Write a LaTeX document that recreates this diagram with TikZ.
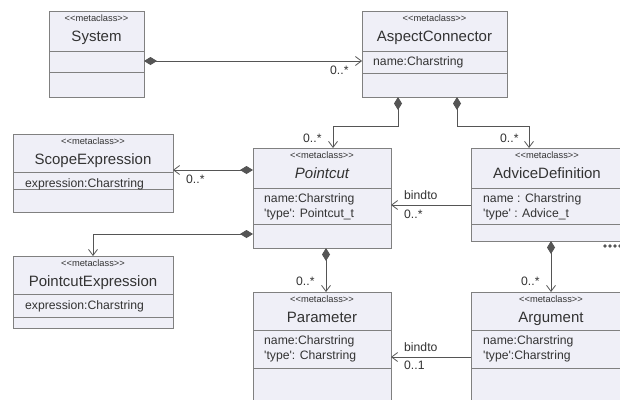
\documentclass[tikz,border=0pt]{standalone}
\usepackage{fontspec}
\setmainfont{Liberation Sans}[Ligatures=TeXOff]
\usetikzlibrary{arrows.meta}
\definecolor{boxfill}{HTML}{EFEFF7}
\definecolor{boxline}{HTML}{808080}
\definecolor{txt}{HTML}{333333}
\definecolor{conn}{HTML}{555555}
\newcommand\umlclass[7]{%
  \node[cls, minimum width=#4pt, minimum height=#5pt] (#1) at (#2,#3) {};
  \draw[sepline] ([yshift=-#6pt]#1.north west) -- ([yshift=-#6pt]#1.north east);
  \draw[sepline] ([yshift=-#7pt]#1.north west) -- ([yshift=-#7pt]#1.north east);
  \node[stereo] (#1-st) at ([yshift=-10.5pt]#1.north) {<<metaclass>>};
}
\begin{document}
\begin{tikzpicture}[x=1pt,y=-1pt,
  cls/.style={draw=boxline, fill=boxfill, line width=0.9pt, inner sep=0pt, outer sep=0pt, anchor=north west},
  sepline/.style={draw=boxline, line width=0.9pt},
  stereo/.style={font=\fontsize{9.3}{11}\selectfont, text=txt, anchor=base, inner sep=0pt},
  cname/.style={font=\fontsize{15}{17}\selectfont, text=txt, anchor=base, inner sep=0pt},
  attr/.style={font=\fontsize{12.2}{14}\selectfont, text=txt, anchor=base west, inner sep=0pt},
  lbl/.style={font=\fontsize{12.2}{14}\selectfont, text=txt, anchor=base west, inner sep=0pt},
  assoc/.style={draw=conn, line width=0.8pt, {Diamond[length=13pt,width=8pt,fill=conn]}-{Straight Barb[length=6pt,width=9pt]}},
  nav/.style={draw=conn, line width=0.8pt, -{Straight Barb[length=6pt,width=9pt]}},
  dot/.style={fill=conn, draw=none, circle, inner sep=0pt, minimum size=3.8pt}
]
\useasboundingbox (0,0) rectangle (620,399);
\clip (0,0) rectangle (620,399);
\fill[white] (0,0) rectangle (620,399);

% classes
\umlclass{sys}{49}{11}{95}{86}{40}{61}
\umlclass{ac}{362}{11}{145}{86}{40}{62}
\umlclass{se}{13}{134}{160}{78}{38}{55}
\umlclass{pc}{253}{148}{138}{100}{40}{76}
\umlclass{ad}{471}{148}{152}{93}{40}{76}
\umlclass{pe}{13}{256}{160}{72}{38}{61}
\umlclass{par}{253}{292}{138}{120}{38}{76}
\umlclass{arg}{471}{292}{160}{120}{38}{76}

% class names
\node[cname] (sys-n) at ([yshift=-30pt]sys.north) {System};
\node[cname] (ac-n) at ([yshift=-30pt]ac.north) {AspectConnector};
\node[cname] (se-n) at ([yshift=-30pt]se.north) {ScopeExpression};
\node[cname] (pc-n) at ([yshift=-30pt]pc.north) {\itshape Pointcut};
\node[cname] (ad-n) at ([yshift=-30pt]ad.north) {AdviceDefinition};
\node[cname] (pe-n) at ([yshift=-30pt]pe.north) {PointcutExpression};
\node[cname] (par-n) at ([yshift=-30pt]par.north) {Parameter};
\node[cname] (arg-n) at ([yshift=-30pt]arg.north) {Argument};

% attributes
\node[attr] (ac-a1) at ([xshift=11pt,yshift=-54pt]ac.north west) {name:Charstring};
\node[attr] (se-a1) at ([xshift=12pt,yshift=-53pt]se.north west) {expression:Charstring};
\node[attr] (pe-a1) at ([xshift=12pt,yshift=-53pt]pe.north west) {expression:Charstring};
\node[attr] (pc-a1) at ([xshift=11pt,yshift=-54pt]pc.north west) {name:Charstring};
\node[attr] (pc-a2) at ([xshift=11pt,yshift=-69pt]pc.north west) {'type': Pointcut\_t};
\node[attr] (ad-a1) at ([xshift=12pt,yshift=-54pt]ad.north west) {name : Charstring};
\node[attr] (ad-a2) at ([xshift=12pt,yshift=-69pt]ad.north west) {'type' : Advice\_t};
\node[attr] (par-a1) at ([xshift=11pt,yshift=-52pt]par.north west) {name:Charstring};
\node[attr] (par-a2) at ([xshift=11pt,yshift=-67pt]par.north west) {'type': Charstring};
\node[attr] (arg-a1) at ([xshift=12pt,yshift=-52pt]arg.north west) {name:Charstring};
\node[attr] (arg-a2) at ([xshift=12pt,yshift=-67pt]arg.north west) {'type':Charstring};

% connectors
\draw[assoc] ([yshift=-7pt]sys.east) -- ([yshift=-7pt]ac.west);
\draw[assoc] ([xshift=-36.5pt]ac.south) -- ++(0,29) -| ([xshift=11pt]pc.north);
\draw[assoc] ([xshift=22.5pt]ac.south) -- ++(0,29) -| ([xshift=-18pt]ad.north);
\draw[assoc] ([yshift=28pt]pc.west) -- ([yshift=28pt]pc.west -| se.east);
\draw[assoc] ([yshift=-36pt]pc.west) -| (pe.north);
\draw[assoc] ([xshift=4pt]pc.south) -- ([xshift=4pt]par.north);
\draw[assoc] ([xshift=4pt]ad.south) -- ([xshift=4pt]ad.south |- arg.north);
\draw[nav] ([yshift=-10.5pt]ad.west) -- ([yshift=-10.5pt]ad.west -| pc.east);
\draw[nav] ([yshift=-5pt]arg.west) -- ([yshift=-5pt]arg.west -| par.east);

% multiplicities and labels
\node[lbl] (m1) at (330,74) {0..*};
\node[lbl] (m2) at (186,183) {0..*};
\node[lbl] (m3) at (303,142) {0..*};
\node[lbl] (m4) at (500,142) {0..*};
\node[lbl] (b1) at (404,199) {bindto};
\node[lbl] (m5) at (404,218) {0..*};
\node[lbl] (m6) at (296,285) {0..*};
\node[lbl] (m7) at (521,285) {0..*};
\node[lbl] (b2) at (404,351) {bindto};
\node[lbl] (m8) at (404,369) {0..1};

% ellipsis dots
\node[dot] (d1) at (605,246) {};
\node[dot] (d2) at (610,246) {};
\node[dot] (d3) at (615,246) {};
\node[dot] (d4) at (620,246) {};
\end{tikzpicture}
\end{document}
